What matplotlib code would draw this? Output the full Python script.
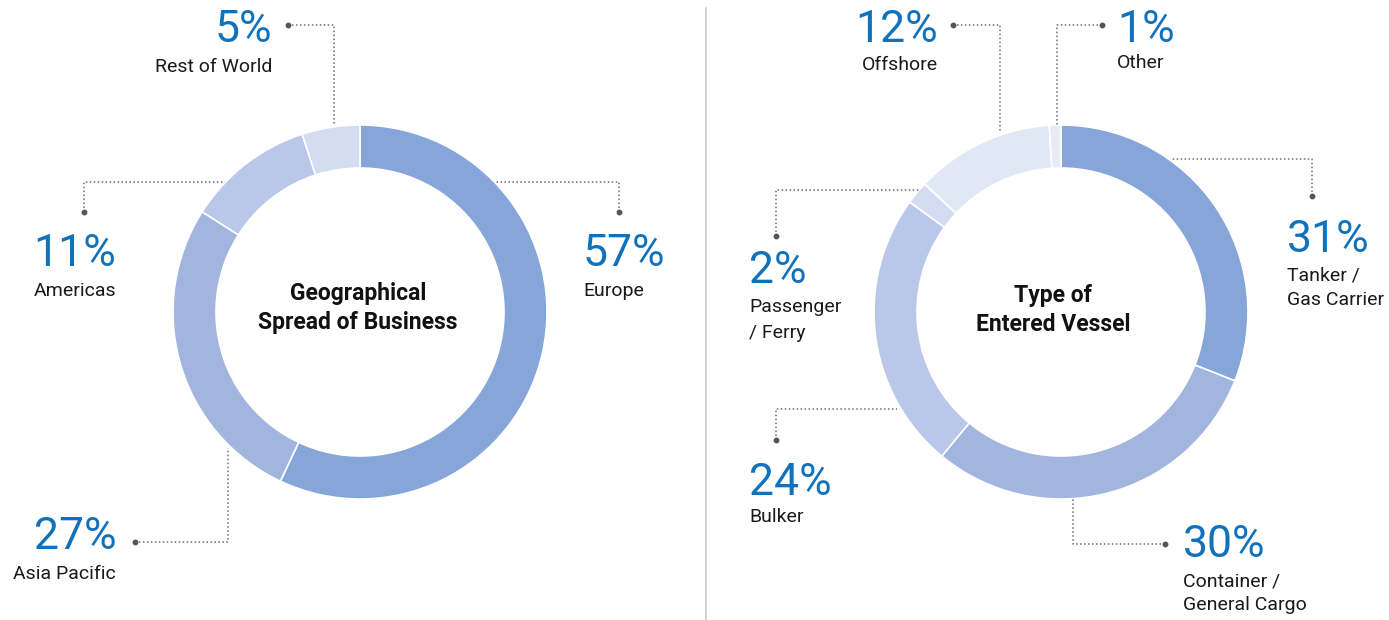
import matplotlib
matplotlib.use("Agg")
import matplotlib.pyplot as plt

# Donut 1: geographical spread (clockwise from 12 o'clock)
geo_labels = ["Europe", "Asia Pacific", "Americas", "Rest of World"]
geo_values = [57, 27, 11, 5]
geo_colors = ["#86A5D8", "#A2B5DF", "#B9C7E8", "#D3DCF1"]

# Donut 2: type of entered vessel (clockwise from 12 o'clock)
vessel_labels = ["Tanker /\nGas Carrier", "Container /\nGeneral Cargo", "Bulker",
                 "Passenger\n/ Ferry", "Offshore", "Other"]
vessel_values = [31, 30, 24, 2, 12, 1]
vessel_colors = ["#86A5D8", "#A2B5DF", "#B9C7E8", "#D3DCF1", "#E0E7F5", "#E6EBF6"]

W, H = 1389, 620
BLUE = "#1072BA"
GREY = "#6E6E6E"
FONT = ["Roboto", "DejaVu Sans"]

fig = plt.figure(figsize=(W / 100, H / 100), dpi=100)
ax = fig.add_axes([0, 0, 1, 1])


def Y(y):
    # pixel row (from top) -> data y
    return H - y


def donut(values, colors, cx, cy):
    ax.pie(values, colors=colors, startangle=90, counterclock=False,
           center=(cx, Y(cy)), radius=187,
           wedgeprops=dict(width=43, edgecolor="white", linewidth=1.2))


def leader(pts):
    xs = [p[0] for p in pts]
    ys = [Y(p[1]) for p in pts]
    ax.plot(xs, ys, color=GREY, lw=1.1, ls=(0, (1, 1.6)), solid_capstyle="butt")
    ax.plot(xs[0], ys[0], "o", color="#555555", ms=3.2)


def label(x, y, pct, text, ha, gap=37, lh=24):
    ax.text(x, Y(y), f"{pct}%", color=BLUE, fontsize=32, family=FONT,
            fontweight="normal", ha=ha, va="center")
    for i, line in enumerate(text.split("\n")):
        ax.text(x, Y(y + gap + i * lh), line, color="#1A1A1A", fontsize=14,
                family=FONT, ha=ha, va="center")


donut(geo_values, geo_colors, 360, 312)
donut(vessel_values, vessel_colors, 1061, 312)

# centre titles
ax.text(358, Y(308), "Geographical\nSpread of Business", ha="center", va="center",
        fontsize=16.5, fontweight="bold", family=FONT,
        linespacing=1.3, color="#111111")
ax.text(1053, Y(310), "Type of\nEntered Vessel", ha="center", va="center",
        fontsize=16.5, fontweight="bold", family=FONT,
        linespacing=1.3, color="#111111")

# divider
ax.plot([706, 706], [Y(8), Y(620)], color="#CCCCCC", lw=1.2)

# leader lines (dot end first)
leader([(288, 25), (334, 25), (334, 125)])
leader([(84, 212), (84, 182), (225, 182)])
leader([(619, 212), (619, 182), (495, 182)])
leader([(135, 542), (228, 542), (228, 448)])
leader([(953, 25), (1000, 25), (1000, 133)])
leader([(1102, 25), (1057, 25), (1057, 125)])
leader([(1312, 196), (1312, 159), (1172, 159)])
leader([(776, 236), (776, 190), (919, 190)])
leader([(776, 440), (776, 409), (897, 409)])
leader([(1165, 544), (1073, 544), (1073, 499)])

# labels
label(272, 30, geo_values[3], geo_labels[3], "right")
label(116, 254, geo_values[2], geo_labels[2], "right")
label(583, 254, geo_values[0], geo_labels[0], "left")
label(116, 537, geo_values[1], geo_labels[1], "right")

label(938, 30, vessel_values[4], vessel_labels[4], "right", gap=35)
label(1117, 30, vessel_values[5], vessel_labels[5], "left", gap=33)
label(1287, 240, vessel_values[0], vessel_labels[0], "left", gap=36)
label(749, 271, vessel_values[3], vessel_labels[3], "left", gap=36, lh=26)
label(749, 483, vessel_values[2], vessel_labels[2], "left", gap=34)
label(1183, 545, vessel_values[1], vessel_labels[1], "left", gap=37, lh=23)

ax.set_xlim(0, W)
ax.set_ylim(0, H)
ax.set_aspect("auto")
ax.axis("off")

fig.savefig("out.png", dpi=100)
